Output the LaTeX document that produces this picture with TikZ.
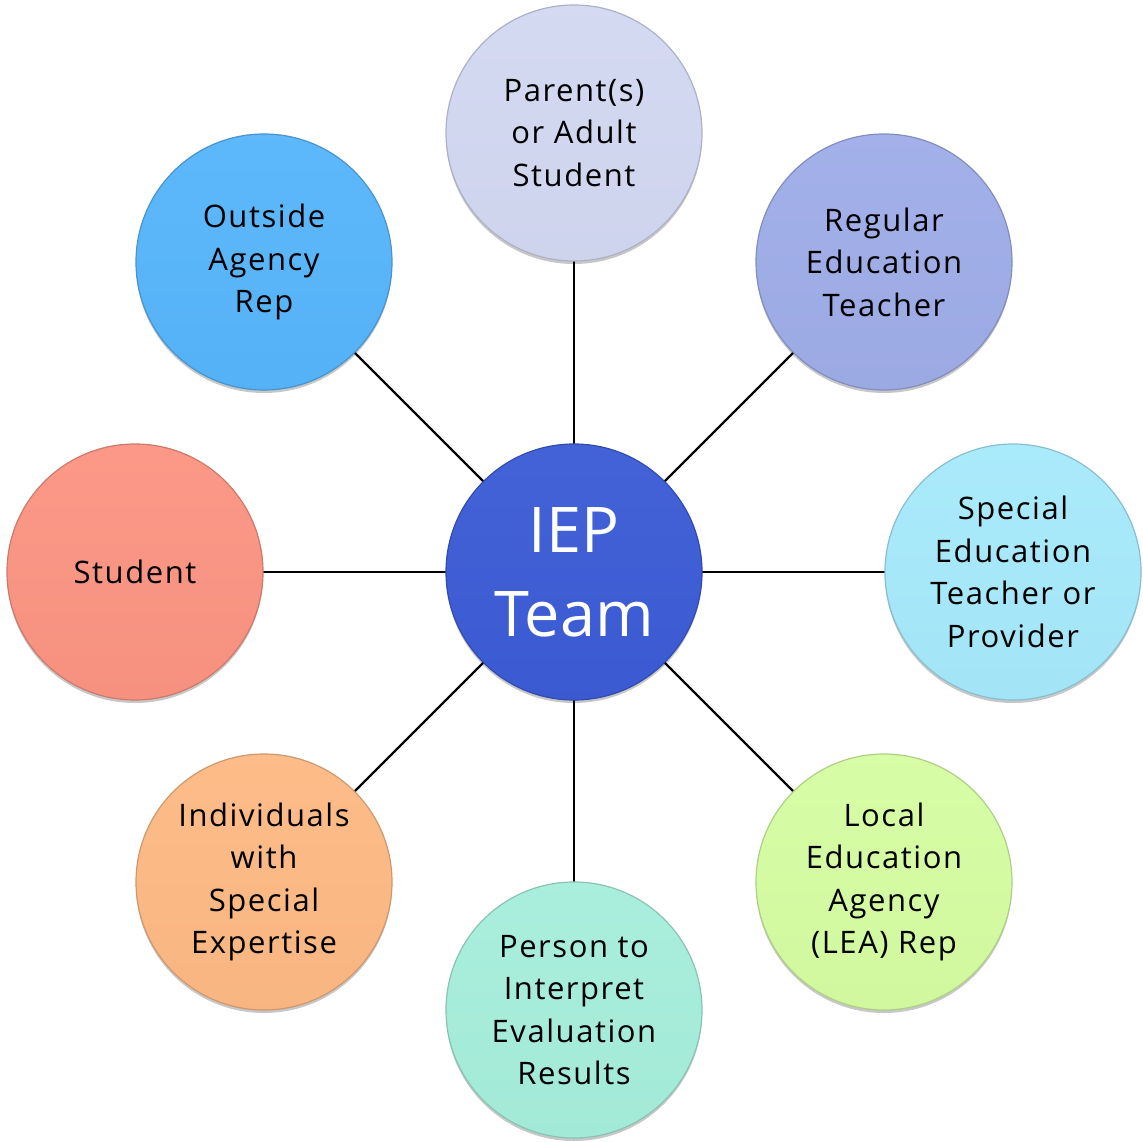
\documentclass[tikz,border=0pt]{standalone}
\usepackage{fontspec}
\setmainfont{Open Sans}
\newfontfamily\spaced[LetterSpace=5]{Open Sans}
\usetikzlibrary{shadows}
\definecolor{cParent}{HTML}{D3D8F2}
\definecolor{cRegular}{HTML}{9FADE8}
\definecolor{cSpecial}{HTML}{A6E9FB}
\definecolor{cLocal}{HTML}{D5FDA2}
\definecolor{cPerson}{HTML}{A6EEDB}
\definecolor{cIndiv}{HTML}{FDB984}
\definecolor{cStudent}{HTML}{FB9482}
\definecolor{cOutside}{HTML}{57B5FB}
\definecolor{cIEP}{HTML}{3C5CD6}
\tikzset{
  ball/.style={circle, minimum size=256pt, inner sep=0pt, align=center,
    font=\spaced\fontsize{31}{42.5}\selectfont, text=black,
    draw=#1!82!black, line width=1.2pt,
    top color=#1!96!white, bottom color=#1!98!black,
    drop shadow={shadow xshift=0pt, shadow yshift=-3pt, opacity=0.22, fill=black}},
  link/.style={line width=2.2pt, black}
}
\begin{document}
\begin{tikzpicture}[x=1pt,y=-1pt]
\useasboundingbox (0,0) rectangle (1143,1142);
\coordinate (c) at (574,572);
\draw[link] (574,572) -- (574,133);
\draw[link] (574,572) -- (884,262);
\draw[link] (574,572) -- (1013,572);
\draw[link] (574,572) -- (884,882);
\draw[link] (574,572) -- (574,1010);
\draw[link] (574,572) -- (264,882);
\draw[link] (574,572) -- (135,572);
\draw[link] (574,572) -- (264,262);
\node[ball=cParent] (parent) at (574,133) {Parent(s)\\or Adult\\Student};
\node[ball=cRegular] (regular) at (884,262) {Regular\\Education\\Teacher};
\node[ball=cSpecial] (special) at (1013,572) {Special\\Education\\Teacher or\\Provider};
\node[ball=cLocal] (local) at (884,882) {Local\\Education\\Agency\\(LEA) Rep};
\node[ball=cPerson] (person) at (574,1010) {Person to\\Interpret\\Evaluation\\Results};
\node[ball=cIndiv] (indiv) at (264,882) {Individuals\\with\\Special\\Expertise};
\node[ball=cStudent] (student) at (135,572) {Student};
\node[ball=cOutside] (outside) at (264,262) {Outside\\Agency\\Rep};
\node[ball=cIEP, text=white, font=\fontsize{63}{84}\selectfont] (iep) at (574,572) {IEP\\Team};
\end{tikzpicture}
\end{document}
